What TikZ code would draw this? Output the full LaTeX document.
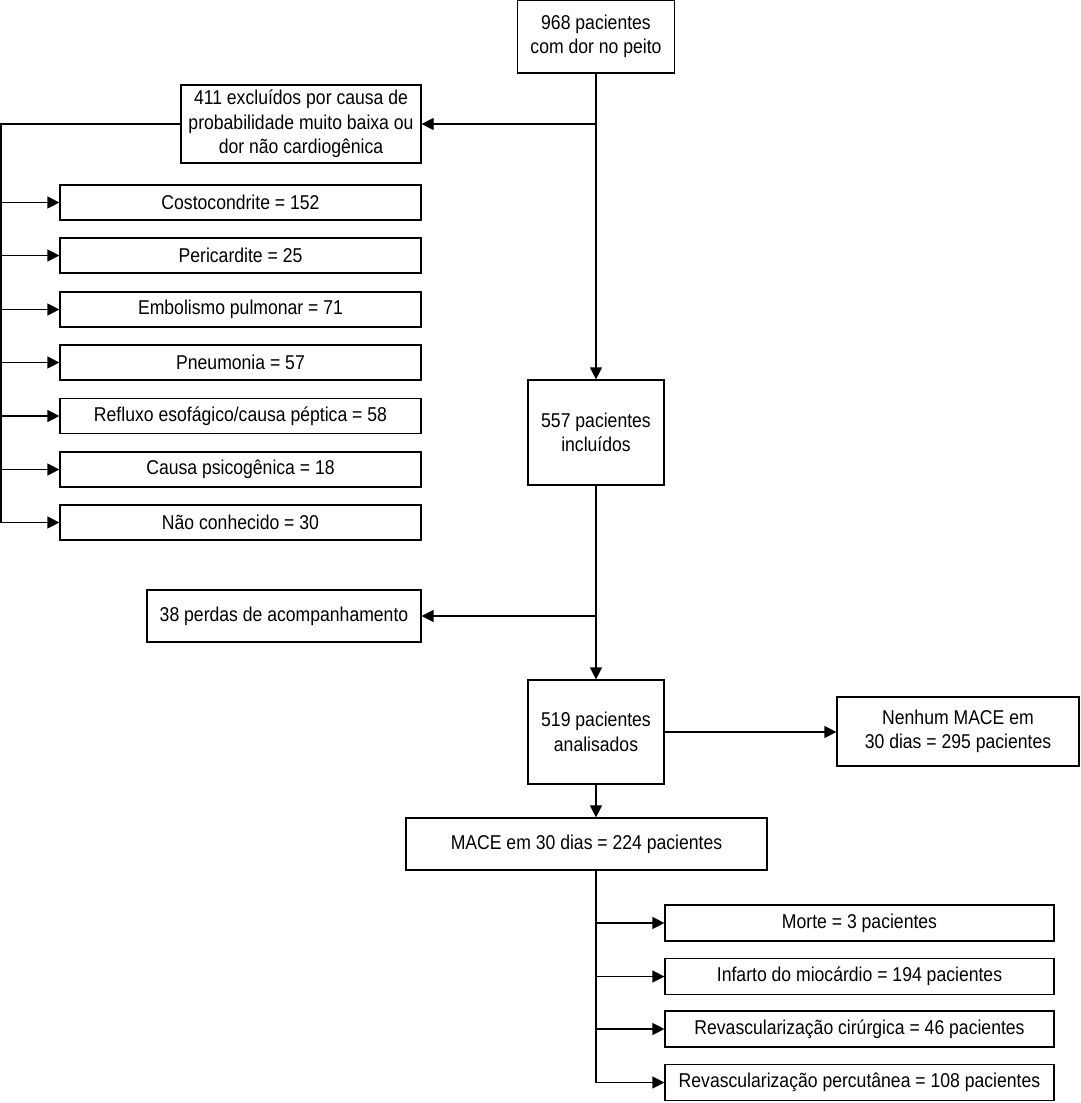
\documentclass[tikz,border=0pt]{standalone}
\usepackage{fontspec}
\setmainfont{Liberation Sans}[FakeStretch=0.88]
\usetikzlibrary{arrows.meta}

\begin{document}
\begin{tikzpicture}[x=1pt,y=-1pt,>={Triangle[length=12pt,width=12pt]},line width=1.2pt,
  box/.style={draw,align=center,inner sep=0pt,font=\fontsize{20}{24.5}\selectfont},
  cause/.style={box,minimum width=361pt,minimum height=35pt},
  event/.style={box,minimum width=389pt,minimum height=36pt}]
\useasboundingbox (0,0) rectangle (1080,1103);
\node[box,minimum width=157pt,minimum height=73pt] (start) at (596,36.5){968 pacientes\\com dor no peito};
\node[box,minimum width=240pt,minimum height=78pt] (excl) at (301,124){411 excluídos por causa de\\probabilidade muito baixa ou\\dor não cardiogênica};
\node[cause] (costo) at (240.5,202.5){Costocondrite = 152};
\node[cause] (peri) at (240.5,255.5){Pericardite = 25};
\node[cause] (embol) at (240.5,309.5){Embolismo pulmonar = 71};
\node[cause] (pneum) at (240.5,362.5){Pneumonia = 57};
\node[cause] (reflux) at (240.5,416){Refluxo esofágico/causa péptica = 58};
\node[cause] (psico) at (240.5,469.5){Causa psicogênica = 18};
\node[cause] (naocon) at (240.5,522.5){Não conhecido = 30};
\node[box,minimum width=136pt,minimum height=105pt] (incl) at (596,432.5){557 pacientes\\incluídos};
\node[box,minimum width=274pt,minimum height=52pt] (perdas) at (284,616){38 perdas de acompanhamento};
\node[box,minimum width=136pt,minimum height=104pt] (anal) at (596,732){519 pacientes\\analisados};
\node[box,minimum width=242pt,minimum height=69pt] (nenhum) at (958,731.5){Nenhum MACE em\\30 dias = 295 pacientes};
\node[box,minimum width=361pt,minimum height=52pt] (mace) at (586.5,844){MACE em 30 dias = 224 pacientes};
\node[event] (morte) at (859.5,923){Morte = 3 pacientes};
\node[event] (infarto) at (859.5,976.5){Infarto do miocárdio = 194 pacientes};
\node[event] (cirurg) at (859.5,1029){Revascularização cirúrgica = 46 pacientes};
\node[event] (percut) at (859.5,1082.5){Revascularização percutânea = 108 pacientes};
% connectors
\draw[->] (start.south) -- (incl.north);
\draw[->] (start.south |- excl.east) -- (excl.east);
\coordinate (trunk) at (1,124);
\draw (excl.west) -- (trunk) -- (trunk |- naocon.west);
\foreach \n in {costo,peri,embol,pneum,reflux,psico,naocon} \draw[->] (trunk |- \n.west) -- (\n.west);
\draw[->] (incl.south) -- (anal.north);
\draw[->] (incl.south |- perdas.east) -- (perdas.east);
\draw[->] (anal.east) -- (anal.east -| nenhum.west);
\draw[->] (anal.south) -- (anal.south |- mace.north);
\draw (anal.south |- mace.south) -- (anal.south |- percut.west);
\foreach \n in {morte,infarto,cirurg,percut} \draw[->] (anal.south |- \n.west) -- (\n.west);
\end{tikzpicture}
\end{document}
